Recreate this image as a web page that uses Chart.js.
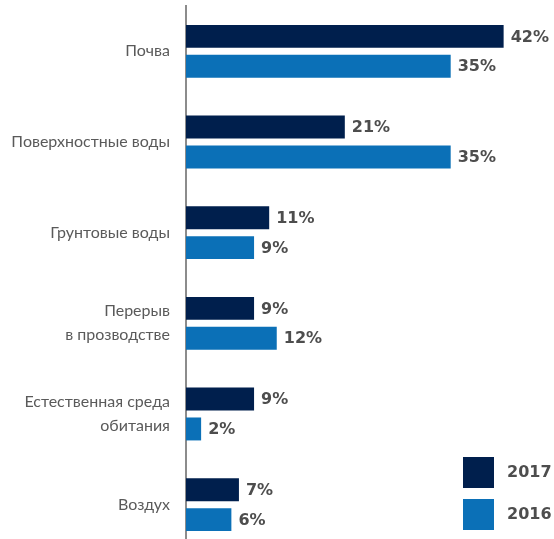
<!DOCTYPE html>
<html>
<head>
<meta charset="utf-8">
<script src="https://cdn.jsdelivr.net/npm/chart.js@4/dist/chart.umd.min.js"></script>
<style>
    html, body { margin: 0; padding: 0; background: #fff; overflow: hidden; }
    #wrap { position: relative; width: 554px; height: 552px; }
</style>
</head>
<body>
<div id="wrap"><canvas id="ecology-chart"></canvas></div>
<script>
var categories = [
    "Почва",
    "Поверхностные воды",
    "Грунтовые воды",
    ["Перерыв", "в прозводстве"],
    ["Естественная среда", "обитания"],
    "Воздух"
];
var years = ["2017", "2016"];
var values2017 = [42, 21, 11, 9, 9, 7];
var values2016 = [35, 35, 9, 12, 2, 6];
var colors = ["#001f4d", "#0b70b7"];

var valueLabels = {
    id: 'valueLabels',
    afterDatasetsDraw: function (chart) {
        var ctx = chart.ctx;
        ctx.save();
        ctx.font = "bold 16px 'DejaVu Sans'";
        ctx.fillStyle = "#4d4d4d";
        ctx.textAlign = "left";
        ctx.textBaseline = "middle";
        chart.data.datasets.forEach(function (ds, i) {
            chart.getDatasetMeta(i).data.forEach(function (bar, j) {
                ctx.fillText(ds.data[j] + "%", bar.x + 7, bar.y + 1);
            });
        });
        ctx.restore();
    }
};

var boxLegend = {
    id: 'boxLegend',
    afterDraw: function (chart) {
        var ctx = chart.ctx;
        ctx.save();
        ctx.font = "bold 16px 'DejaVu Sans'";
        ctx.textBaseline = "middle";
        chart.data.datasets.forEach(function (ds, i) {
            var top = 457 + i * 42;
            ctx.fillStyle = ds.backgroundColor;
            ctx.fillRect(463, top, 31, 31);
            ctx.fillStyle = "#4d4d4d";
            ctx.fillText(ds.label, 507, top + 16);
        });
        ctx.restore();
    }
};

new Chart(document.getElementById("ecology-chart"), {
    type: 'bar',
    data: {
        labels: categories,
        datasets: [
            { label: years[0], data: values2017, backgroundColor: colors[0] },
            { label: years[1], data: values2016, backgroundColor: colors[1] }
        ]
    },
    options: {
        indexAxis: 'y',
        responsive: true,
        maintainAspectRatio: false,
        animation: false,
        categoryPercentage: 0.66,
        barPercentage: 0.767,
        layout: { padding: { top: 6, bottom: 2, right: 5, left: 0 } },
        plugins: {
            legend: { display: false },
            tooltip: { enabled: false }
        },
        scales: {
            x: {
                display: false,
                min: 0,
                max: 48
            },
            y: {
                grid: { display: false, drawTicks: false },
                border: { display: true, color: '#8c8c8c', width: 2 },
                ticks: {
                    color: '#5a5a5a',
                    padding: 16,
                    font: { family: 'Lato', size: 16, lineHeight: 1.5 }
                },
                afterFit: function (scale) {
                    scale.width = 186;
                    scale.paddingTop = 0;
                    scale.paddingBottom = 0;
                }
            }
        }
    },
    plugins: [valueLabels, boxLegend]
});
</script>
</body>
</html>
